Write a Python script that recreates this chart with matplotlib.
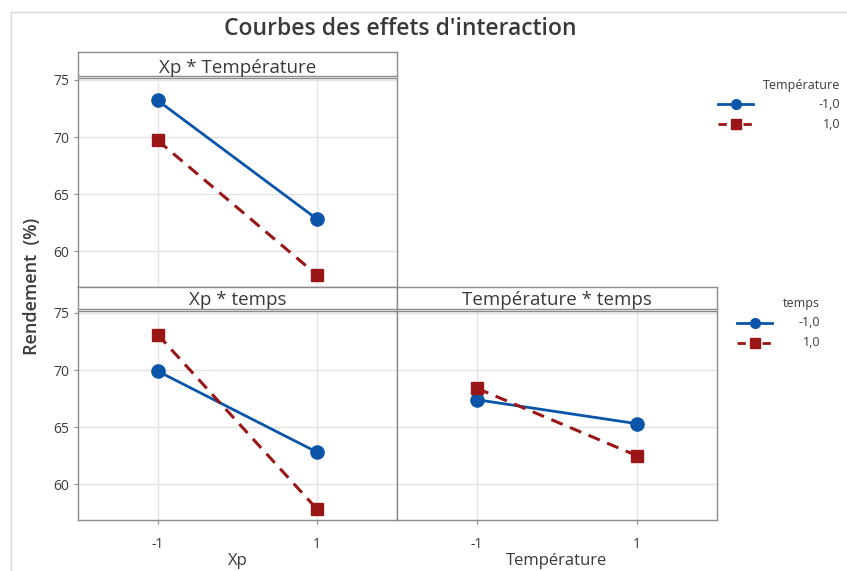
import matplotlib
matplotlib.use("Agg")
import matplotlib.pyplot as plt
from matplotlib.lines import Line2D

plt.rcParams['font.family'] = ['Open Sans', 'DejaVu Sans']

W, H = 847, 571

# Factor levels and mean responses
levels = [-1, 1]
level_labels = ["-1,0", "1,0"]

# Xp * Température (series by Température)
xp_temp_low = [73.2, 62.8]
xp_temp_high = [69.7, 57.9]
# Xp * temps (series by temps)
xp_temps_low = [69.9, 62.8]
xp_temps_high = [73.1, 57.8]
# Température * temps (series by temps)
temp_temps_low = [67.4, 65.3]
temp_temps_high = [68.4, 62.5]

y_ticks = [60, 65, 70, 75]
x_ticks = [-1, 1]
x_tick_labels = ["-1", "1"]

BLUE = "#0A55A8"
RED = "#9A1616"
GRID = "#E4E4E4"
FRAME = "#8C8C8C"
TXT = "#3A3A3A"

fig = plt.figure(figsize=(W / 100, H / 100), dpi=100)


def px_rect(x0, y0, x1, y1):
    return [x0 / W, 1 - y1 / H, (x1 - x0) / W, (y1 - y0) / H]


def fx(x):
    return x / W


def fy(y):
    return 1 - y / H


def panel(rect, low, high, strip_title, strip_rect, text_y, show_y, show_x):
    ax = fig.add_axes(px_rect(*rect))
    ax.set_xlim(-2, 2)
    ax.set_ylim(56.87, 75.17)
    ax.set_yticks(y_ticks)
    ax.set_xticks(x_ticks)
    ax.set_xticklabels(x_tick_labels)
    ax.grid(True, color=GRID, linewidth=1.0)
    ax.set_axisbelow(True)
    for s in ax.spines.values():
        s.set_color(FRAME)
        s.set_linewidth(1.0)
    ax.tick_params(axis='both', colors=FRAME, labelcolor=TXT, labelsize=10,
                   length=3, width=0.8)
    if not show_y:
        ax.tick_params(axis='y', left=False, labelleft=False)
    if not show_x:
        ax.tick_params(axis='x', bottom=False, labelbottom=False)
    else:
        ax.tick_params(axis='x', pad=9)
    ax.plot(levels, low, color=BLUE, lw=2.0, marker='o', markersize=9.5,
            zorder=3)
    ax.plot(levels, high, color=RED, lw=2.2, ls=(0, (4, 2.6)), marker='s',
            markersize=8, zorder=3)

    sx = fig.add_axes(px_rect(*strip_rect))
    sx.set_xticks([])
    sx.set_yticks([])
    for s in sx.spines.values():
        s.set_color(FRAME)
        s.set_linewidth(1.0)
    sx.text(0.5, text_y, strip_title, ha='center', va='center', fontsize=13.5,
            color=TXT, transform=sx.transAxes)
    return ax


panel((78, 78, 397, 287), xp_temp_low, xp_temp_high, "Xp * Température",
      (78, 52, 397, 76), 0.34, True, False)
panel((78, 311, 397, 520), xp_temps_low, xp_temps_high, "Xp * temps",
      (78, 287, 397, 309), 0.42, True, True)
panel((397, 311, 717, 520), temp_temps_low, temp_temps_high,
      "Température * temps", (397, 287, 717, 309), 0.42, False, True)

# Title and axis labels
fig.text(fx(400), fy(29), "Courbes des effets d'interaction", ha='center',
         va='center', fontsize=16.5, fontweight='semibold', color=TXT)
fig.text(fx(32), fy(286), "Rendement  (%)", ha='center', va='center',
         rotation=90, fontsize=13, fontweight='semibold', color=TXT)
fig.text(fx(238), fy(561), "Xp", ha='center', va='center', fontsize=12,
         color=TXT)
fig.text(fx(557), fy(561), "Température", ha='center', va='center',
         fontsize=12, color=TXT)


def legend(title, title_xy, rows, x0, x1, label_x):
    fig.text(fx(title_xy[0]), fy(title_xy[1]), title, ha='right',
             va='center', fontsize=9, color=TXT)
    styles = [dict(color=BLUE, lw=2.0, marker='o', markersize=7),
              dict(color=RED, lw=2.0, ls=(0, (3, 1.5)), marker='s',
                   markersize=7)]
    for (y, lab), st in zip(rows, styles):
        ln = Line2D([fx(x0), fx((x0 + x1) / 2), fx(x1)], [fy(y)] * 3,
                    transform=fig.transFigure, markevery=[1], **st)
        fig.add_artist(ln)
        fig.text(fx(label_x), fy(y), lab, ha='right', va='center',
                 fontsize=9, color=TXT)


legend("Température", (840, 86),
       [(104, level_labels[0]), (124, level_labels[1])], 718, 753, 840)
legend("temps", (820, 304),
       [(323, level_labels[0]), (343, level_labels[1])], 737, 772, 820)

# Outer frame of the graph window
fig.add_artist(Line2D([fx(11), fx(847)], [fy(12), fy(12)],
                      transform=fig.transFigure, color="#D8D8D8", lw=1.0))
fig.add_artist(Line2D([fx(11), fx(11)], [fy(12), fy(571)],
                      transform=fig.transFigure, color="#D8D8D8", lw=1.0))

fig.savefig("out.png", dpi=100)
